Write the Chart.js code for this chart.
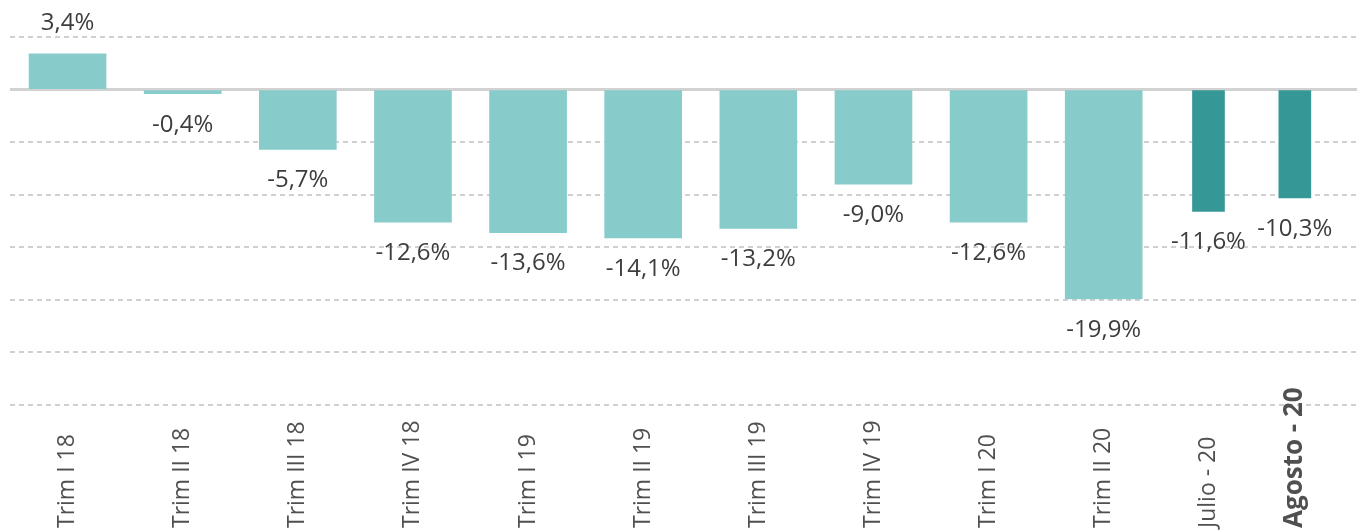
<!DOCTYPE html>
<html>
<head>
<meta charset="utf-8">
<script src="https://cdn.jsdelivr.net/npm/chart.js@4"></script>
<style>
  body { margin: 0; background: #fff; }
  #wrap { width: 1366px; height: 532px; position: relative; }
</style>
</head>
<body>
<div id="wrap"><canvas id="barChartCanvas"></canvas></div>
<script>
// datos
const categories = ["Trim I 18", "Trim II 18", "Trim III 18", "Trim IV 18", "Trim I 19", "Trim II 19",
  "Trim III 19", "Trim IV 19", "Trim I 20", "Trim II 20", "Julio - 20", "Agosto - 20"];
const values = [3.4, -0.4, -5.7, -12.6, -13.6, -14.1, -13.2, -9.0, -12.6, -19.9, -11.6, -10.3];
const quarterCount = 10; // los dos últimos son meses
const yTicks = [5, 0, -5, -10, -15, -20, -25, -30];

// posición de cada barra en el eje x (los meses ocupan huecos más estrechos)
function slotOf(i) {
  return i < quarterCount ? i : quarterCount - 0.09 + 0.75 * (i - quarterCount);
}

const fmt = v => v.toFixed(1).replace(".", ",") + "%";

const quarterData = [];
const monthData = [];
values.forEach((v, i) => {
  const p = { x: slotOf(i), y: v };
  (i < quarterCount ? quarterData : monthData).push(p);
});

// línea del cero y etiquetas
const extras = {
  id: "extras",
  beforeDatasetsDraw(chart) {
    const { ctx, chartArea, scales } = chart;
    const y0 = scales.y.getPixelForValue(0);
    ctx.save();
    ctx.strokeStyle = "#d2d2d2";
    ctx.lineWidth = 3;
    ctx.beginPath();
    ctx.moveTo(chartArea.left, y0);
    ctx.lineTo(chartArea.right, y0);
    ctx.stroke();
    ctx.restore();
  },
  afterDatasetsDraw(chart) {
    const { ctx, scales } = chart;
    ctx.save();
    // valores
    ctx.font = "24px 'Open Sans'";
    ctx.fillStyle = "#3d3d3d";
    ctx.textAlign = "center";
    ctx.textBaseline = "middle";
    chart.data.datasets.forEach((ds, d) => {
      chart.getDatasetMeta(d).data.forEach((bar, k) => {
        const v = ds.data[k].y;
        const y = scales.y.getPixelForValue(v) + (v < 0 ? 31 : -31);
        ctx.fillText(fmt(v), bar.x, y);
      });
    });
    // categorías, giradas
    ctx.fillStyle = "#505050";
    ctx.textAlign = "left";
    categories.forEach((c, i) => {
      const x = scales.x.getPixelForValue(slotOf(i));
      ctx.save();
      ctx.translate(x, 528);
      ctx.rotate(-Math.PI / 2);
      ctx.font = i === categories.length - 1 ? "bold 26px 'Open Sans'" : "23px 'Open Sans'";
      ctx.fillText(c, 0, 0);
      ctx.restore();
    });
    ctx.restore();
  }
};

new Chart(document.getElementById("barChartCanvas").getContext("2d"), {
  type: "bar",
  data: {
    datasets: [{
      label: "Trimestres",
      data: quarterData,
      backgroundColor: "#87cbca",
      barThickness: 77,
      grouped: false
    }, {
      label: "Meses",
      data: monthData,
      backgroundColor: "#369797",
      barThickness: 32,
      grouped: false
    }]
  },
  options: {
    responsive: true,
    maintainAspectRatio: false,
    animation: false,
    layout: { padding: { top: 37, bottom: 127, left: 10, right: 9 } },
    plugins: {
      legend: { display: false },
      tooltip: { enabled: false }
    },
    scales: {
      x: {
        type: "linear",
        display: false,
        offset: false,
        min: -0.5,
        max: 11.2
      },
      y: {
        min: yTicks[yTicks.length - 1],
        max: yTicks[0],
        afterBuildTicks: axis => { axis.ticks = yTicks.map(v => ({ value: v })); },
        ticks: { display: false },
        border: { display: false, dash: [5, 4] },
        grid: { color: "#d0d0d0", lineWidth: 2, drawTicks: false }
      }
    }
  },
  plugins: [extras]
});
</script>
</body>
</html>
